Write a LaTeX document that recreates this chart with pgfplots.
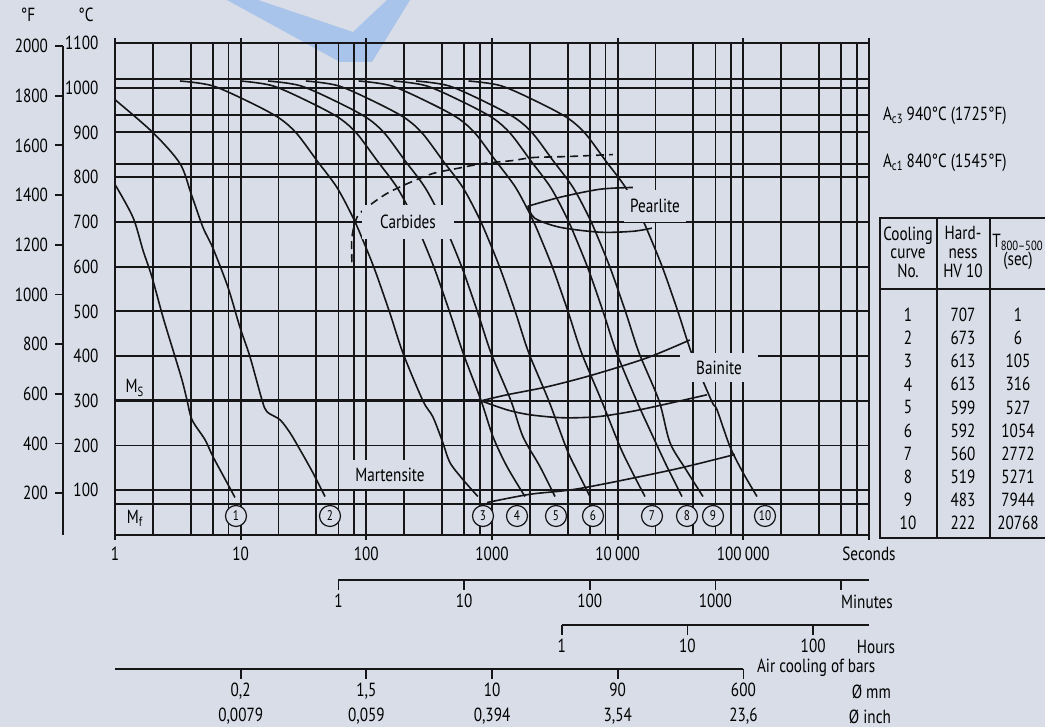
\documentclass[border=0pt]{standalone}
\usepackage{pgfplots}
\pgfplotsset{compat=1.18}
\usepackage{fontspec}
\setmainfont{PT Sans}[FakeStretch=0.8]
\definecolor{bg}{RGB}{217,221,232}
\definecolor{ink}{RGB}{22,22,24}
\definecolor{logo}{RGB}{168,196,234}

\pgfplotsset{
  cool/.style={ink, line width=0.8pt, smooth, no marks},
  thinaxis/.style={scale only axis, axis y line=none, axis x line=bottom,
    axis line style={-, ink, line width=0.9pt}, ymin=0, ymax=1,
    height=10pt, tick align=outside, major tick length=5pt,
    xtick style={ink, line width=0.9pt}, minor tick length=0pt,
    xticklabel style={inner sep=2pt}},
}

\begin{document}
\begin{tikzpicture}[font=\fontsize{9.5}{12.5}\selectfont]
\fill[bg] (0,0) rectangle (522.5pt,363.5pt);
\useasboundingbox (0,0) rectangle (522.5pt,363.5pt);
% faint watermark logo at the top
\begin{scope}[x=0.5pt, y=-0.5pt, shift={(0pt,363.5pt)}]
\fill[logo, even odd rule] (227,0) -- (410,0) -- (372,62) -- (340,62) -- cycle
  (258,0) -- (387,0) -- (353,32) -- cycle;
\end{scope}

% main diagram: time in s (log) against temperature in degC
\begin{axis}[
  at={(57.5pt,96pt)}, anchor=south west,
  scale only axis, width=377pt, height=246pt,
  xmode=log, xmin=1, xmax=1e6, ymin=0, ymax=1100,
  enlargelimits=false,
  xtick={1,10,100,1000,10000,100000,1000000},
  xticklabels={1,10,100,1000,10\,000,100\,000,Seconds},
  minor xtick={2,4,6,8,20,40,60,80,200,400,600,800,2000,4000,6000,8000,
    20000,40000,60000,80000,200000,400000,600000,800000},
  ytick={100,200,...,1100},
  yticklabels={100,200,300,400,500,600,700,800,900,1000,1100},
  extra y ticks={70,830,940,1020}, extra y tick labels={},
  extra y tick style={grid=major},
  grid=both,
  major grid style={ink, line width=0.95pt},
  minor grid style={ink, line width=0.95pt},
  axis line style={ink, line width=0.95pt},
  tick align=outside, major tick length=2.5pt, minor tick length=0pt,
  xtick style={ink, line width=0.95pt},
  ytick style={draw=none},
  yticklabel style={xshift=-2.3pt},
]
% Ms line
\addplot[ink, line width=1.5pt] coordinates {(1,300) (820,300)};

% cooling curves 1 to 10
\addplot[cool] coordinates {(1,783.7) (1.390,710.2) (1.670,636.6) (1.970,576.4) (2.409,487.1) (2.893,413.6) (3.412,346.8) (3.738,302.2) (4.099,257.7) (5.200,213.1) (6.021,175.2) (7.780,117.2) (9.010,83.8)};
\addplot[cool] coordinates {(1,973.2) (2.005,899.6) (3.289,830.5) (4.026,763.6) (5.010,687.9) (6.021,641.1) (7.922,554.1) (9.856,464.9) (11.87,398.1) (14.77,302.3) (16.19,275.5) (20.54,257.7) (24.67,228.7) (29.65,190.8) (37.52,139.5) (46.90,86.0)};
\addplot[cool] coordinates {(3.289,1015) (6.021,1004) (12.53,964) (20.54,931) (28.05,897) (40.46,837) (58.37,777) (78.24,710) (93.95,659) (117.1,592) (154.0,496) (195.6,407) (282.0,300) (338.7,264) (406.8,206) (462.6,162) (586.8,124) (772.4,86)};
\addplot[cool] coordinates {(9.898,1015) (18.12,1004) (37.71,964) (61.81,931) (84.42,897) (121.8,837) (175.7,777) (235.5,710) (282.7,659) (352.4,592) (463.5,496) (588.7,407) (820,300) (1018,219.8) (1316,152.9) (1830,86)};
\addplot[cool] coordinates {(16.51,1015) (30.22,1004) (62.89,964) (103.1,931) (140.8,897) (203.1,837) (293.0,777) (392.7,710) (471.5,659) (587.7,592) (772.9,496) (981.7,407) (1415,300) (1764,219.8) (2409,152.9) (3172,86)};
\addplot[cool] coordinates {(33.01,1015) (60.44,1004) (125.8,964) (206.2,931) (281.6,897) (406.1,837) (585.9,777) (785.4,710) (943.1,659) (1175,592) (1546,496) (1963,407) (2831,300) (3951,190.8) (4833,139.5) (6022,86)};
\addplot[cool] coordinates {(86.83,1015) (159.0,1004) (330.8,964) (542.3,931) (740.5,897) (1068,837) (1541,777) (2066,710) (2480,659) (3091,592) (4066,496) (5164,407) (7445,300) (10435,197.5) (13002,141.7) (16500,86)};
\addplot[cool] coordinates {(165.1,1015) (302.3,1004) (629.0,964) (1031,931) (1408,897) (2031,837) (2930,777) (3928,710) (4716,659) (5878,592) (7731,496) (9819,407) (14156,300) (19103,219.8) (24693,152.9) (32497,86)};
\addplot[cool] coordinates {(248.8,1015) (455.5,1004) (948.0,964) (1554,931) (2122,897) (3061,837) (4416,777) (5920,710) (7108,659) (8860,592) (11652,496) (14799,407) (21336,300) (26082,206.4) (34965,146.2) (47738,86)};
\addplot[cool] coordinates {(650.5,1015) (1191,1004) (2478,964) (4063,931) (5548,897) (8003,837) (11545,777) (15475,710) (18582,659) (23161,592) (30460,496) (38688,407) (55777,300) (61712,280) (78290,197.5) (99357,139.5) (128440,86)};

% carbides (dashed)
\addplot[cool, dash pattern=on 4pt off 2.5pt] coordinates {(76.8,609.8) (76.8,665.5) (84.2,710.2) (101.1,732.5) (145.9,763.6) (222.3,788.1) (338.7,808.2) (525.9,819.4) (846.4,830.5) (1466,837.2) (2115,843.9) (3944,846.1) (9159,850.6)};
% pearlite start / finish
\addplot[cool] coordinates {(1930,735) (3470,755) (7218,773) (13212,777)};
\addplot[cool] coordinates {(1930,735) (2194,708) (3470,688) (7218,677) (13212,679) (18712,686)};
% bainite start / lower / finish
\addplot[cool] coordinates {(820,300) (1314,313.4) (2734,331.2) (6349,358.0) (17076,395.9) (37531,436.0)};
\addplot[cool] coordinates {(820,300) (1314,279.9) (2002,268.8) (3664,262.1) (6831,264.4) (12508,275.5) (22887,291.1) (51234,313.4)};
\addplot[cool] coordinates {(911,72.5) (2002,91) (5004,104) (27488,146) (85581,180)};
\end{axis}

% degF scale
\begin{axis}[
  at={(31.5pt,96pt)}, anchor=south west,
  scale only axis, width=10pt, height=244.5pt,
  xmin=0, xmax=1, ymin=32, ymax=2000,
  axis y line=left, axis x line=none,
  axis line style={-, ink, line width=0.9pt},
  ytick={200,400,...,2000},
  yticklabels={200,400,600,800,1000,1200,1400,1600,1800,2000},
  tick align=outside, major tick length=4pt,
  ytick style={ink, line width=0.9pt},
]
\addplot[draw=none] coordinates {(0,100)};
\end{axis}

% minutes
\begin{axis}[thinaxis, xmode=log, at={(169.2pt,73.5pt)}, anchor=south west,
  width=265.3pt, xmin=1, xmax=16666.7,
  xtick={1,10,100,1000,10000}, xticklabels={1,10,100,1000,{}}]
\addplot[draw=none] coordinates {(10,0.5)};
\end{axis}
% hours
\begin{axis}[thinaxis, xmode=log, at={(280.9pt,51pt)}, anchor=south west,
  width=153.55pt, xmin=1, xmax=277.78,
  xtick={1,10,100}, xticklabels={1,10,100}]
\addplot[draw=none] coordinates {(10,0.5)};
\end{axis}
% air cooling of bars
\begin{axis}[thinaxis, xmode=log, at={(57.5pt,29pt)}, anchor=south west,
  width=314.2pt, xmin=1, xmax=100000,
  xtick={10,100,1000,10000,100000},
  xticklabels={{0,2\\0,0079},{1,5\\0,059},{10\\0,394},{90\\3,54},{600\\23,6}},
  xticklabel style={align=center}]
\addplot[draw=none] coordinates {(10,0.5)};
\end{axis}

% labels in image pixel units
\begin{scope}[x=0.5pt, y=-0.5pt, shift={(0pt,363.5pt)}]
\node at (28,15) {°F};
\node at (86,15) {°C};
\node[fill=bg, inner sep=0pt, minimum width=46pt, minimum height=17pt] at (408,222) {Carbides};
\node[fill=bg, inner sep=0pt, minimum width=31pt, minimum height=16pt] at (655,206) {Pearlite};
\node[fill=bg, inner sep=0pt, minimum width=39pt, minimum height=14.5pt] at (719,368) {Bainite};
\node[fill=bg, inner sep=0pt, minimum width=45pt, minimum height=14.5pt] at (390,475) {Martensite};
\node at (135,388) {M\textsubscript{S}};
\node at (135,518) {M\textsubscript{f}};
\foreach \n/\x in {1/236,2/330,3/483,4/517,5/556,6/593,7/652,8/687,9/713,10/765}
  \node[circle, draw=ink, line width=0.6pt, fill=bg, minimum size=10.5pt, inner sep=0pt,
        font=\fontsize{7}{8}\selectfont] at (\x,516) {\n};
\node[anchor=west] at (876,116) {A\textsubscript{c3}\,940°C (1725°F)};
\node[anchor=west] at (876,163) {A\textsubscript{c1}\,840°C (1545°F)};
\node at (867,602) {Minutes};
\node at (876,647) {Hours};
\node[anchor=west] at (750,668) {Air cooling of bars};
\node[anchor=east] at (898,692) {Ø mm};
\node[anchor=east] at (898,717) {Ø inch};
% table
\draw[ink, line width=1.2pt] (880,218) rectangle (1052,538);
\draw[ink, line width=1.2pt] (937,218) -- (937,538) (990,218) -- (990,538) (880,289) -- (1052,289);
\begin{scope}[font=\fontsize{9.5}{9.3}\selectfont]
\node[align=center] at (908,252) {Cooling\\curve\\No.};
\node[align=center] at (963,252) {Hard-\\ness\\HV 10};
\node[align=center] at (1018,252) {T\textsubscript{800--500}\\(sec)};
\end{scope}
\foreach \i/\h/\s [count=\k from 0] in {1/707/1,2/673/6,3/613/105,4/613/316,5/599/527,6/592/1054,7/560/2772,8/519/5271,9/483/7944,10/222/20768} {
  \node at (908,315+23.1*\k) {\i};
  \node at (963,315+23.1*\k) {\h};
  \node at (1018,315+23.1*\k) {\s};
}
\end{scope}
\end{tikzpicture}
\end{document}
